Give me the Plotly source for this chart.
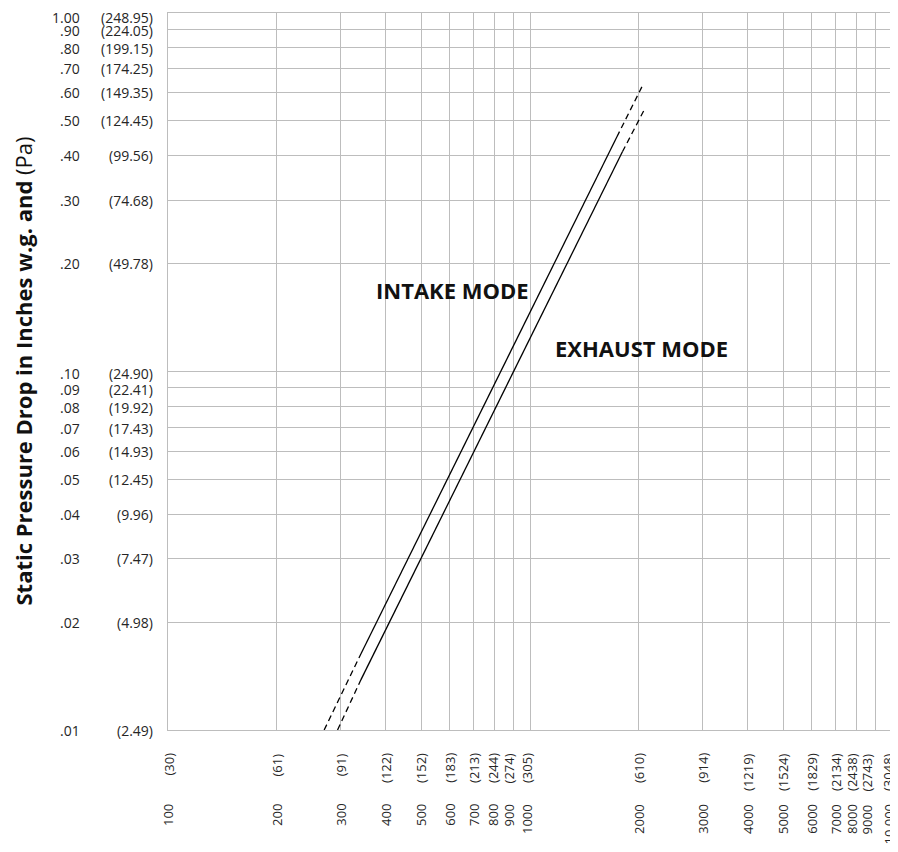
import math
import plotly.graph_objects as go

# ---------------- data ----------------
cfm_ticks = [100, 200, 300, 400, 500, 600, 700, 800, 900, 1000,
             2000, 3000, 4000, 5000, 6000, 7000, 8000, 9000, 10000]
cfm_labels = ["100", "200", "300", "400", "500", "600", "700", "800", "900", "1000",
              "2000", "3000", "4000", "5000", "6000", "7000", "8000", "9000", "10,000"]
m3h_labels = ["(30)", "(61)", "(91)", "(122)", "(152)", "(183)", "(213)", "(244)", "(274)", "(305)",
              "(610)", "(914)", "(1219)", "(1524)", "(1829)", "(2134)", "(2438)", "(2743)", "(3048)"]

inch_ticks = [0.01, 0.02, 0.03, 0.04, 0.05, 0.06, 0.07, 0.08, 0.09, 0.10,
              0.20, 0.30, 0.40, 0.50, 0.60, 0.70, 0.80, 0.90, 1.00]
inch_labels = [".01", ".02", ".03", ".04", ".05", ".06", ".07", ".08", ".09", ".10",
               ".20", ".30", ".40", ".50", ".60", ".70", ".80", ".90", "1.00"]
pa_labels = ["(2.49)", "(4.98)", "(7.47)", "(9.96)", "(12.45)", "(14.93)", "(17.43)", "(19.92)",
             "(22.41)", "(24.90)", "(49.78)", "(74.68)", "(99.56)", "(124.45)", "(149.35)",
             "(174.25)", "(199.15)", "(224.05)", "(248.95)"]

# Intake mode curve (solid part + dashed extrapolations)
intake_solid_cfm = [341, 1737]
intake_solid_pd = [0.0163, 0.451]
intake_dash_cfm = [270, 341, None, 1737, 2045]
intake_dash_pd = [0.0100, 0.0163, None, 0.451, 0.627]

# Exhaust mode curve
exhaust_solid_cfm = [341, 1800]
exhaust_solid_pd = [0.0138, 0.410]
exhaust_dash_cfm = [294, 341, None, 1800, 2080]
exhaust_dash_pd = [0.0100, 0.0138, None, 0.410, 0.543]

# ---------------- figure ----------------
FONT = "Open Sans, Noto Sans, sans-serif"
GRID = "#bdbdbd"
TXT = "#262626"

fig = go.Figure()
line_style = dict(color="#000000", width=1.3)
fig.add_trace(go.Scatter(x=intake_solid_cfm, y=intake_solid_pd, mode="lines",
                         line=line_style, hoverinfo="skip", showlegend=False))
fig.add_trace(go.Scatter(x=intake_dash_cfm, y=intake_dash_pd, mode="lines",
                         line=dict(line_style, dash="6px,4px"), connectgaps=False,
                         hoverinfo="skip", showlegend=False))
fig.add_trace(go.Scatter(x=exhaust_solid_cfm, y=exhaust_solid_pd, mode="lines",
                         line=line_style, hoverinfo="skip", showlegend=False))
fig.add_trace(go.Scatter(x=exhaust_dash_cfm, y=exhaust_dash_pd, mode="lines",
                         line=dict(line_style, dash="6px,4px"), connectgaps=False,
                         hoverinfo="skip", showlegend=False))

annotations = []
# y-axis labels: inches column and Pa column
yshifts = {0.10: -2, 0.09: -2, 0.08: -1, 0.07: -1, 1.00: -4, 0.90: -1, 0.80: -1}
for v, il, pl in zip(inch_ticks, inch_labels, pa_labels):
    ys = yshifts.get(v, 0)
    annotations.append(dict(xref="paper", yref="y", x=0, y=math.log10(v), text=il,
                            xanchor="right", yanchor="middle", xshift=-86, yshift=ys,
                            showarrow=False, font=dict(family=FONT, size=14, color=TXT)))
    annotations.append(dict(xref="paper", yref="y", x=0, y=math.log10(v), text=pl,
                            xanchor="right", yanchor="middle", xshift=-13, yshift=ys,
                            showarrow=False, font=dict(family=FONT, size=14, color=TXT)))

# x-axis labels: two rotated rows
xshifts = {800: -2, 900: -4, 1000: -3, 8000: -5, 9000: -8, 10000: -4}
for v, cl, ml in zip(cfm_ticks, cfm_labels, m3h_labels):
    xs = xshifts.get(v, 0)
    annotations.append(dict(xref="x", yref="paper", x=math.log10(v), y=0, text=ml,
                            textangle=-90, xanchor="center", yanchor="top", yshift=-21,
                            xshift=xs, showarrow=False,
                            font=dict(family=FONT, size=13, color=TXT)))
    annotations.append(dict(xref="x", yref="paper", x=math.log10(v), y=0, text=cl,
                            textangle=-90, xanchor="center", yanchor="top", yshift=-72,
                            xshift=xs, showarrow=False,
                            font=dict(family=FONT, size=13, color=TXT)))

# y-axis title
annotations.append(dict(xref="paper", yref="paper", x=0, y=0.5, xshift=-146,
                        text="<b>Static Pressure Drop in Inches w.g. and</b> (Pa)",
                        textangle=-90, xanchor="center", yanchor="middle", showarrow=False,
                        font=dict(family=FONT, size=22, color="#111111")))

# curve labels
annotations.append(dict(xref="x", yref="y", x=math.log10(610), y=math.log10(0.169),
                        text="<b>INTAKE MODE</b>", showarrow=False,
                        font=dict(family=FONT, size=22, color="#111111")))
annotations.append(dict(xref="x", yref="y", x=math.log10(2028), y=math.log10(0.116),
                        text="<b>EXHAUST MODE</b>", showarrow=False,
                        font=dict(family=FONT, size=22, color="#111111")))

fig.update_layout(
    width=890, height=844,
    margin=dict(l=160, r=6, t=5, b=122, pad=0),
    paper_bgcolor="white", plot_bgcolor="white",
    annotations=annotations,
    xaxis=dict(type="log", range=[2, 4], tickvals=cfm_ticks[1:], showticklabels=False,
               showgrid=True, gridcolor=GRID, gridwidth=1, ticks="",
               showline=True, linecolor=GRID, linewidth=1, mirror=True, zeroline=False),
    yaxis=dict(type="log", range=[-2, 0], tickvals=inch_ticks[1:], showticklabels=False,
               showgrid=True, gridcolor=GRID, gridwidth=1, ticks="",
               showline=True, linecolor=GRID, linewidth=1, mirror=True, zeroline=False),
)

fig.write_html("out.html")
